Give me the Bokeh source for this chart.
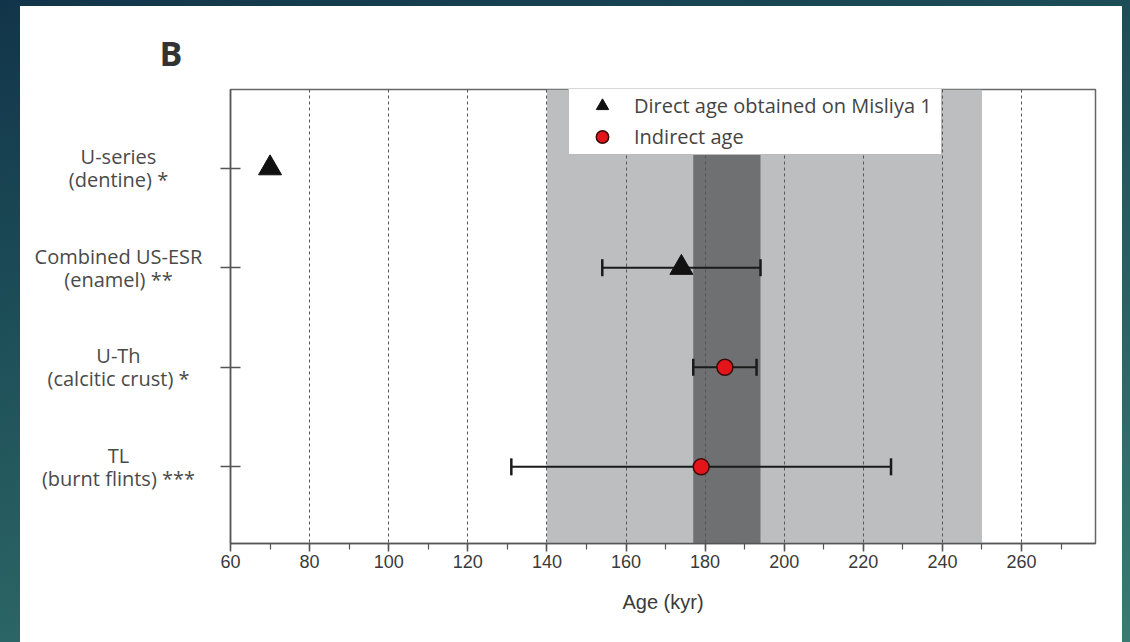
from bokeh.plotting import figure
from bokeh.models import (Range1d, SingleIntervalTicker, FixedTicker, Whisker, TeeHead,
                          ColumnDataSource, Legend, LegendItem, BoxAnnotation, Spacer,
                          GlobalInlineStyleSheet)
from bokeh.layouts import row, column
from bokeh.core.properties import value
from bokeh.embed import file_html
from bokeh.resources import INLINE

# ---------------- data ----------------
categories = ["U-series\n(dentine) *",
              "Combined US-ESR\n(enamel) **",
              "U-Th\n(calcitic crust) *",
              "TL\n(burnt flints) ***"]
direct_cat = [0, 1]
direct_age = [70, 174]
indirect_cat = [2, 3]
indirect_age = [185, 179]
err_cat = [1, 2, 3]
err_low = [154, 177, 131]
err_high = [194, 193, 227]
band_outer = [140, 250]
band_inner = [177, 194]
x_start, x_end = 60, 278.7
tick_interval = 20

H = 636
TOP, BOTTOM = 83, 99
y_range = Range1d(3.77, -0.79)

# ---------------- category label column ----------------
LW = 190
lab = figure(width=LW, height=H, x_range=Range1d(0, LW), y_range=y_range,
             x_axis_location=None, y_axis_location=None,
             output_backend="svg", toolbar_location=None,
             min_border_left=0, min_border_right=0,
             min_border_top=TOP, min_border_bottom=BOTTOM)
lab.outline_line_color = None
lab.border_fill_color = "white"
lab.xgrid.grid_line_color = None
lab.ygrid.grid_line_color = None
lab.text(x=[98] * len(categories), y=list(range(len(categories))), text=categories,
         text_align="center", text_baseline="middle",
         text_font=value("Open Sans"), text_font_size="20px",
         text_color="#4a4a4a", text_line_height=0.85)
lab.title.text = "B"
lab.title.text_font = "Open Sans"
lab.title.text_font_style = "bold"
lab.title.text_font_size = "34px"
lab.title.text_color = "#333333"
lab.title.align = "left"
lab.title.offset = 139
lab.title.standoff = 27

# ---------------- main figure ----------------
p = figure(width=912, height=H,
           x_range=Range1d(x_start, x_end), y_range=y_range,
           output_backend="svg", toolbar_location=None,
           min_border_left=20, min_border_right=27,
           min_border_top=TOP, min_border_bottom=BOTTOM)
p.background_fill_color = "white"
p.border_fill_color = "white"
p.outline_line_color = "#666666"
p.outline_line_width = 1.5

# bands (below the grid)
p.add_layout(BoxAnnotation(left=band_outer[0], right=band_outer[1], fill_color="#bdbec0",
                           fill_alpha=1, line_color=None, level="image"))
p.add_layout(BoxAnnotation(left=band_inner[0], right=band_inner[1], fill_color="#6e7072",
                           fill_alpha=1, line_color=None, level="image"))

# x axis
ticker = SingleIntervalTicker(interval=tick_interval, num_minor_ticks=2)
p.xaxis.ticker = ticker
p.xgrid.ticker = ticker
p.xgrid.grid_line_color = "#555555"
p.xgrid.grid_line_dash = "3 3"
p.xgrid.grid_line_width = 1
p.ygrid.grid_line_color = None
p.xaxis.axis_label = "Age (kyr)"
p.xaxis.axis_label_text_font = "Liberation Sans"
p.xaxis.axis_label_text_font_size = "20px"
p.xaxis.axis_label_text_font_style = "normal"
p.xaxis.axis_label_text_color = "#3a3a3a"
p.xaxis.axis_label_standoff = 20
p.xaxis.major_label_text_font = "Liberation Sans"
p.xaxis.major_label_text_font_size = "18px"
p.xaxis.major_label_text_color = "#3a3a3a"
p.xaxis.major_label_standoff = 3
p.xaxis.axis_line_color = "#555555"
p.xaxis.axis_line_width = 1.5
p.xaxis.major_tick_line_color = "#555555"
p.xaxis.major_tick_line_width = 1.5
p.xaxis.major_tick_in = 0
p.xaxis.major_tick_out = 8
p.xaxis.minor_tick_line_color = "#555555"
p.xaxis.minor_tick_line_width = 1.2
p.xaxis.minor_tick_in = 0
p.xaxis.minor_tick_out = 6

# y axis (labels drawn in the left column)
p.yaxis.ticker = FixedTicker(ticks=list(range(len(categories))))
p.yaxis.major_label_overrides = {i: "" for i in range(len(categories))}
p.yaxis.major_label_standoff = 0
p.yaxis.axis_line_color = "#555555"
p.yaxis.axis_line_width = 1.5
p.yaxis.major_tick_line_color = "#555555"
p.yaxis.major_tick_line_width = 1.5
p.yaxis.major_tick_in = 10
p.yaxis.major_tick_out = 10

# error bars
src_err = ColumnDataSource(dict(y=err_cat, lo=err_low, hi=err_high))
p.add_layout(Whisker(source=src_err, base="y", lower="lo", upper="hi", dimension="width",
                     line_color="#1a1a1a", line_width=2,
                     lower_head=TeeHead(size=17, line_color="#1a1a1a", line_width=2.5),
                     upper_head=TeeHead(size=17, line_color="#1a1a1a", line_width=2.5)))

tri = p.scatter(direct_age, direct_cat, marker="triangle", size=23,
                fill_color="#111111", line_color="#111111")
cir = p.scatter(indirect_age, indirect_cat, marker="circle", size=16,
                fill_color="#e3151b", line_color="#3b0a0a", line_width=1.5)

legend = Legend(items=[LegendItem(label="Direct age obtained on Misliya 1", renderers=[tri]),
                       LegendItem(label="Indirect age", renderers=[cir])],
                location=(338, 388), orientation="vertical", padding=2, margin=0,
                spacing=0, glyph_width=62, glyph_height=31, label_standoff=1,
                label_width=305, label_text_font="Open Sans", label_text_font_size="20px",
                label_text_color="#444444", border_line_color="#777777",
                border_line_width=1.2, background_fill_color="white", background_fill_alpha=1)
p.add_layout(legend, "center")

bg = GlobalInlineStyleSheet(css="html, body { background: linear-gradient(165deg, #12344a 0%, #1d4f58 35%, #3a7a72 100%); min-height: 100%; }")
panel = row(lab, p, styles={"background-color": "white"})
layout = column(Spacer(width=1122, height=6),
                row(Spacer(width=20, height=H), panel),
                stylesheets=[bg])

open("out.html", "w").write(file_html(layout, INLINE))
